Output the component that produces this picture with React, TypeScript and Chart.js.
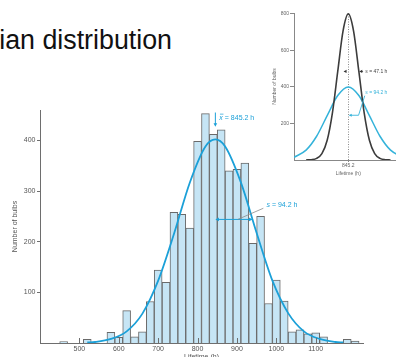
import React, { useEffect, useRef } from "react";
import { Chart, registerables } from "chart.js";

Chart.register(...registerables);

const FONT = "'Liberation Sans', Arial, Helvetica, sans-serif";

// ---- Main histogram: 20 h bins (centres) and number of bulbs ----
const binCentres = [460, 520, 580, 600, 620, 640, 660, 680, 700, 720, 740, 760, 780, 800, 820, 840, 860, 880, 900, 920, 940, 960, 980, 1000, 1020, 1040, 1060, 1080, 1100, 1120, 1180, 1200];
const binCounts = [3, 7, 21, 11, 64, 12, 22, 82, 144, 120, 258, 254, 227, 398, 453, 412, 421, 340, 343, 355, 197, 250, 78, 124, 83, 22, 26, 18, 20, 12, 7, 4];

// ---- Fitted curve over the histogram ----
const fitHours = [520, 540, 580, 620, 660, 700, 740, 780, 820, 845, 870, 910, 950, 990, 1030, 1070, 1110, 1150, 1170];
const fitCounts = [1, 2, 8, 23, 58, 123, 215, 316, 388, 402, 388, 317, 217, 123, 59, 23, 8, 2, 1];

const xTickValues = [500, 600, 700, 800, 900, 1000, 1100];
const yTickValues = [100, 200, 300, 400];

const meanHours = 845.2;
const sdWide = 94.2;

// ---- Inset: two distributions with the same mean ----
const insetNarrowHours = [656.8, 680.35, 703.9, 727.45, 751, 774.55, 798.1, 821.65, 845.2, 868.75, 892.3, 915.85, 939.4, 962.95, 986.5, 1010.05, 1033.6];
const insetNarrowCounts = [0.3, 1.8, 9, 35, 108, 260, 485, 706, 800, 706, 485, 260, 108, 35, 9, 1.8, 0.3];
const insetWideHours = [603, 656.8, 703.9, 751, 798.1, 845.2, 892.3, 939.4, 986.5, 1033.6, 1087.4];
const insetWideCounts = [15, 54, 130, 243, 353, 400, 353, 243, 130, 54, 15];
const insetYTickValues = [200, 400, 600, 800];
const insetXTickValues = [845.2];

const CYAN = "#1ba0d8";
const INSET_CYAN = "#35b3da";
const BAR_FILL = "#c6e5f5";
const BAR_EDGE = "#6a6a6a";
const AXIS = "#6e6e6e";
const TICK = "#555555";

function seg(ctx: CanvasRenderingContext2D, x1: number, y1: number, x2: number, y2: number) {
  ctx.beginPath();
  ctx.moveTo(x1, y1);
  ctx.lineTo(x2, y2);
  ctx.stroke();
}

function head(ctx: CanvasRenderingContext2D, tx: number, ty: number, dx: number, dy: number, len: number, half: number) {
  const bx = tx - dx * len;
  const by = ty - dy * len;
  ctx.beginPath();
  ctx.moveTo(tx, ty);
  ctx.lineTo(bx - dy * half, by + dx * half);
  ctx.lineTo(bx + dy * half, by - dx * half);
  ctx.closePath();
  ctx.fill();
}

function varLabel(ctx: CanvasRenderingContext2D, v: string, rest: string, x: number, y: number, size: number, color: string, bar: boolean) {
  ctx.fillStyle = color;
  ctx.textBaseline = "middle";
  ctx.textAlign = "left";
  ctx.font = `italic ${size}px ${FONT}`;
  ctx.fillText(v, x, y);
  const w = ctx.measureText(v).width;
  if (bar) ctx.fillRect(x + 0.6, y - size * 0.55, w, 0.7);
  ctx.font = `${size}px ${FONT}`;
  ctx.fillText(rest, x + w, y);
}

const mainDecor = {
  id: "mainDecor",
  afterDatasetsDraw(chart: any) {
    const { ctx, chartArea, scales } = chart;
    const xs = scales.x;
    const ys = scales.y;
    ctx.save();
    ctx.strokeStyle = AXIS;
    ctx.lineWidth = 1;
    xTickValues.forEach((v) => {
      const px = Math.round(xs.getPixelForValue(v)) + 0.5;
      seg(ctx, px, chartArea.bottom, px, chartArea.bottom - 5);
    });

    // mean marker
    const mx = xs.getPixelForValue(meanHours);
    const y1 = ys.getPixelForValue(455);
    const y2 = ys.getPixelForValue(427);
    ctx.strokeStyle = CYAN;
    ctx.fillStyle = CYAN;
    ctx.lineWidth = 1;
    seg(ctx, mx, y1, mx, y2 - 2);
    head(ctx, mx, y2, 0, 1, 3.5, 1.8);
    varLabel(ctx, "x", " = 845.2 h", mx + 4, ys.getPixelForValue(445), 7, CYAN, true);

    // s arrow
    const ay = ys.getPixelForValue(244);
    const ax2 = xs.getPixelForValue(meanHours + sdWide);
    ctx.strokeStyle = CYAN;
    ctx.fillStyle = CYAN;
    seg(ctx, mx + 2, ay, ax2 - 2, ay);
    head(ctx, mx, ay, -1, 0, 3.5, 1.8);
    head(ctx, ax2, ay, 1, 0, 3.5, 1.8);
    ctx.strokeStyle = "#8a8a8a";
    ctx.lineWidth = 0.8;
    seg(ctx, xs.getPixelForValue(967), ys.getPixelForValue(266), xs.getPixelForValue(902), ay);
    varLabel(ctx, "s", " = 94.2 h", xs.getPixelForValue(975), ys.getPixelForValue(272), 7, CYAN, false);
    ctx.restore();
  },
};

const insetDecor = {
  id: "insetDecor",
  beforeDatasetsDraw(chart: any) {
    const { ctx, chartArea, scales } = chart;
    const mx = Math.round(scales.x.getPixelForValue(meanHours)) + 0.5;
    ctx.save();
    ctx.strokeStyle = "#8a8a8a";
    ctx.lineWidth = 1;
    ctx.setLineDash([1, 1.5]);
    seg(ctx, mx, chartArea.bottom, mx, chartArea.top);
    ctx.restore();
  },
  afterDatasetsDraw(chart: any) {
    const { ctx, scales } = chart;
    const xs = scales.x;
    const ys = scales.y;
    ctx.save();
    // narrow distribution width marks
    const gy = ys.getPixelForValue(485);
    ctx.fillStyle = "#333";
    ctx.strokeStyle = "#333";
    ctx.lineWidth = 0.8;
    head(ctx, xs.getPixelForValue(824), gy, -1, 0, 3, 1.6);
    const rt = xs.getPixelForValue(894);
    head(ctx, rt, gy, -1, 0, 3, 1.6);
    seg(ctx, rt + 2, gy, xs.getPixelForValue(911), gy);
    varLabel(ctx, "s", " = 47.1 h", xs.getPixelForValue(921), ys.getPixelForValue(485), 5, "#444", false);

    // wide distribution width marks
    const cy = ys.getPixelForValue(245);
    ctx.fillStyle = INSET_CYAN;
    ctx.strokeStyle = INSET_CYAN;
    ctx.lineWidth = 0.9;
    const ct = xs.getPixelForValue(847);
    const ce = xs.getPixelForValue(891);
    seg(ctx, ct + 2, cy, ce, cy);
    head(ctx, ct, cy, -1, 0, 3, 1.6);
    seg(ctx, ce, cy, xs.getPixelForValue(918.6), ys.getPixelForValue(352));
    varLabel(ctx, "s", " = 94.2 h", xs.getPixelForValue(921), ys.getPixelForValue(370), 5, INSET_CYAN, false);
    ctx.restore();
  },
};

function mainConfig(): any {
  return {
    type: "bar",
    data: {
      datasets: [
        {
          type: "line",
          label: "fit",
          data: fitHours.map((h, i) => ({ x: h, y: fitCounts[i] })),
          borderColor: CYAN,
          borderWidth: 1.8,
          pointRadius: 0,
          cubicInterpolationMode: "monotone",
          fill: false,
          order: 0,
        },
        {
          type: "bar",
          label: "bulbs",
          data: binCentres.map((c, i) => ({ x: c, y: binCounts[i] })),
          backgroundColor: BAR_FILL,
          borderColor: BAR_EDGE,
          borderWidth: 1,
          barPercentage: 1,
          categoryPercentage: 1,
          order: 1,
        },
      ],
    },
    options: {
      responsive: false,
      animation: false,
      devicePixelRatio: 1,
      layout: { padding: { left: 0, top: 110, right: 33, bottom: 0 } },
      plugins: { legend: { display: false }, tooltip: { enabled: false } },
      scales: {
        x: {
          type: "linear",
          min: 400,
          max: 1220,
          offset: false,
          afterBuildTicks: (s: any) => {
            s.ticks = xTickValues.map((v) => ({ value: v }));
          },
          afterFit: (s: any) => {
            s.height = 19;
          },
          grid: { display: true, drawOnChartArea: false, drawTicks: false, offset: false, color: AXIS },
          border: { display: true, color: AXIS, width: 1 },
          ticks: {
            font: { family: FONT, size: 7 },
            color: TICK,
            padding: 2,
            maxRotation: 0,
            autoSkip: false,
            callback: (v: any) => String(v),
          },
          title: {
            display: true,
            text: "Lifetime (h)",
            font: { family: FONT, size: 7 },
            color: TICK,
            padding: { top: 0, bottom: 0.8 },
          },
        },
        y: {
          type: "linear",
          min: 0,
          max: 460,
          afterBuildTicks: (s: any) => {
            s.ticks = yTickValues.map((v) => ({ value: v }));
          },
          afterFit: (s: any) => {
            s.width = 40;
          },
          grid: { display: true, drawOnChartArea: false, drawTicks: true, tickLength: 3, color: AXIS },
          border: { display: true, color: AXIS, width: 1 },
          ticks: {
            font: { family: FONT, size: 7 },
            color: TICK,
            padding: 1.5,
            callback: (v: any) => String(v),
          },
          title: {
            display: true,
            text: "Number of bulbs",
            font: { family: FONT, size: 7 },
            color: TICK,
            padding: { top: 10.8, bottom: 0 },
          },
        },
      },
    },
    plugins: [mainDecor],
  };
}

function insetConfig(): any {
  return {
    type: "line",
    data: {
      datasets: [
        {
          label: "s = 94.2 h",
          data: insetWideHours.map((h, i) => ({ x: h, y: insetWideCounts[i] })),
          borderColor: INSET_CYAN,
          borderWidth: 1.5,
          pointRadius: 0,
          cubicInterpolationMode: "monotone",
          fill: false,
          order: 1,
        },
        {
          label: "s = 47.1 h",
          data: insetNarrowHours.map((h, i) => ({ x: h, y: insetNarrowCounts[i] })),
          borderColor: "#3c3c3c",
          borderWidth: 1.6,
          pointRadius: 0,
          cubicInterpolationMode: "monotone",
          fill: false,
          order: 0,
        },
      ],
    },
    options: {
      responsive: false,
      animation: false,
      devicePixelRatio: 1,
      layout: { padding: { left: 0, top: 13, right: 7.4, bottom: 0 } },
      plugins: { legend: { display: false }, tooltip: { enabled: false } },
      scales: {
        x: {
          type: "linear",
          min: 603,
          max: 1087.4,
          afterBuildTicks: (s: any) => {
            s.ticks = insetXTickValues.map((v) => ({ value: v }));
          },
          afterFit: (s: any) => {
            s.height = 22;
          },
          grid: { display: true, drawOnChartArea: false, drawTicks: true, tickLength: 2, color: "#888" },
          border: { display: true, color: "#888", width: 1 },
          ticks: {
            font: { family: FONT, size: 5 },
            color: "#666",
            padding: 0.5,
            maxRotation: 0,
            autoSkip: false,
            callback: (v: any) => Number(v).toFixed(1),
          },
          title: {
            display: true,
            text: "Lifetime (h)",
            font: { family: FONT, size: 5 },
            color: "#666",
            padding: { top: 0, bottom: 5.7 },
          },
        },
        y: {
          type: "linear",
          min: 0,
          max: 805,
          afterBuildTicks: (s: any) => {
            s.ticks = insetYTickValues.map((v) => ({ value: v }));
          },
          afterFit: (s: any) => {
            s.width = 44;
          },
          grid: { display: true, drawOnChartArea: false, drawTicks: true, tickLength: 4, color: "#888" },
          border: { display: true, color: "#888", width: 1 },
          ticks: {
            font: { family: FONT, size: 5 },
            color: "#666",
            padding: 1,
            callback: (v: any) => String(v),
          },
          title: {
            display: true,
            text: "Number of bulbs",
            font: { family: FONT, size: 5 },
            color: "#666",
            padding: { top: 22, bottom: 0 },
          },
        },
      },
    },
    plugins: [insetDecor],
  };
}

export default function App() {
  const mainRef = useRef<HTMLCanvasElement>(null);
  const insetRef = useRef<HTMLCanvasElement>(null);

  useEffect(() => {
    const main = new Chart(mainRef.current as HTMLCanvasElement, mainConfig());
    const inset = new Chart(insetRef.current as HTMLCanvasElement, insetConfig());
    return () => {
      main.destroy();
      inset.destroy();
    };
  }, []);

  return (
    <div
      style={{
        position: "fixed",
        left: 0,
        top: 0,
        width: 396,
        height: 357,
        overflow: "hidden",
        background: "#ffffff",
      }}
    >
      <div
        style={{
          position: "absolute",
          right: 224,
          top: 27,
          fontFamily: FONT,
          fontSize: 26.8,
          lineHeight: 1,
          whiteSpace: "nowrap",
          color: "#111111",
        }}
      >
        Gaussian distribution
      </div>
      <canvas
        ref={mainRef}
        width={396}
        height={362}
        style={{ position: "absolute", left: 0, top: 0, width: 396, height: 362 }}
      />
      <canvas
        ref={insetRef}
        width={160}
        height={182}
        style={{ position: "absolute", left: 250, top: 0, width: 160, height: 182 }}
      />
    </div>
  );
}
